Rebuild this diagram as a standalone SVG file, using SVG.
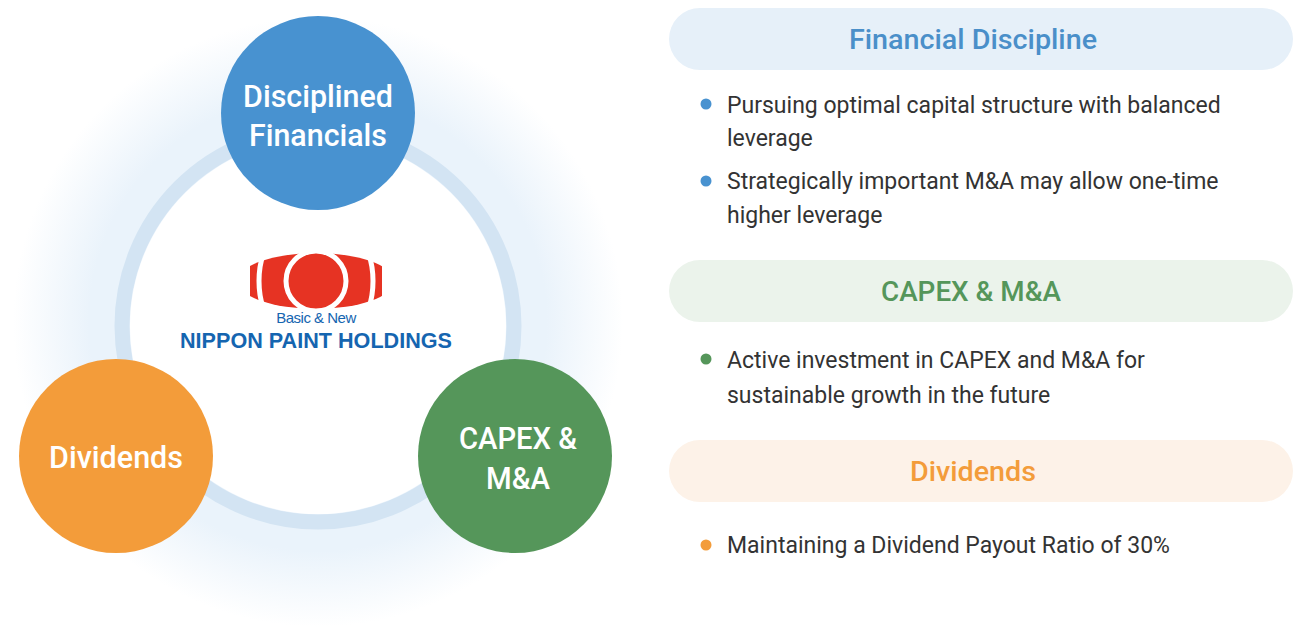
<svg xmlns="http://www.w3.org/2000/svg" width="1293" height="627" viewBox="0 0 1293 627">
<defs>
<radialGradient id="glow" cx="50%" cy="50%" r="50%">
<stop offset="0.75" stop-color="#eaf3fb"/>
<stop offset="1" stop-color="#eaf3fb" stop-opacity="0"/>
</radialGradient>
<mask id="logomask" maskUnits="userSpaceOnUse" x="230" y="230" width="180" height="100">
<ellipse cx="316" cy="281" rx="78" ry="28" fill="#fff"/>
<rect x="230" y="230" width="20" height="100" fill="#000"/>
<rect x="382" y="230" width="30" height="100" fill="#000"/>
<circle cx="316" cy="281" r="30" fill="none" stroke="#000" stroke-width="5"/>
<ellipse cx="316" cy="281" rx="57" ry="70" fill="none" stroke="#000" stroke-width="5"/>
</mask>
<style>
.nl{font-family:Roboto,"Liberation Sans",sans-serif;font-size:31px;font-weight:500;fill:#fff;text-anchor:middle;}
.tt{font-family:Roboto,"Liberation Sans",sans-serif;font-size:27px;font-weight:500;text-anchor:middle;}
.bd{font-family:Roboto,"Liberation Sans",sans-serif;font-size:23px;fill:#333;}
</style>
</defs>
<rect width="1293" height="627" fill="#fff"/>
<g id="background">
<circle cx="318" cy="322" r="305" fill="url(#glow)"/>
<circle cx="318" cy="326" r="196" fill="none" stroke="#d3e4f3" stroke-width="15"/>
<circle cx="318" cy="326" r="188" fill="#fff"/>
</g>
<g id="logo">
<rect x="240" y="240" width="160" height="80" fill="#e63323" mask="url(#logomask)"/>
<text x="316" y="323" font-family="'Liberation Sans',sans-serif" font-size="15" fill="#1565b0" text-anchor="middle" letter-spacing="-0.5">Basic &amp; New</text>
<text x="316" y="348" font-family="'Liberation Sans',sans-serif" font-size="22" font-weight="bold" fill="#1565b0" text-anchor="middle" textLength="272" lengthAdjust="spacingAndGlyphs">NIPPON PAINT HOLDINGS</text>
</g>
<g id="node-disciplined">
<circle cx="318" cy="113" r="97" fill="#4892d0"/>
<text class="nl" x="318" y="107" textLength="150" lengthAdjust="spacingAndGlyphs">Disciplined</text>
<text class="nl" x="318" y="146" textLength="138" lengthAdjust="spacingAndGlyphs">Financials</text>
</g>
<g id="node-dividends">
<circle cx="116" cy="456" r="97" fill="#f39c3a"/>
<text class="nl" x="116" y="468" textLength="134" lengthAdjust="spacingAndGlyphs">Dividends</text>
</g>
<g id="node-capex">
<circle cx="515" cy="456" r="97" fill="#55965a"/>
<text class="nl" x="518" y="449" textLength="118" lengthAdjust="spacingAndGlyphs">CAPEX &amp;</text>
<text class="nl" x="518" y="489" textLength="64" lengthAdjust="spacingAndGlyphs">M&amp;A</text>
</g>
<g id="connectors"/>
<g id="panel-financial">
<rect x="669" y="8" width="624" height="62" rx="31" fill="#e6f0f9"/>
<text class="tt" x="973" y="49" fill="#4a8fc9" textLength="248" lengthAdjust="spacingAndGlyphs">Financial Discipline</text>
<circle cx="706" cy="104" r="5.5" fill="#4892d0"/>
<text class="bd" x="727" y="113">Pursuing optimal capital structure with balanced</text>
<text class="bd" x="727" y="146">leverage</text>
<circle cx="706" cy="181" r="5.5" fill="#4892d0"/>
<text class="bd" x="727" y="189">Strategically important M&amp;A may allow one-time</text>
<text class="bd" x="727" y="223">higher leverage</text>
</g>
<g id="panel-capex">
<rect x="669" y="260" width="624" height="62" rx="31" fill="#ebf3eb"/>
<text class="tt" x="971" y="301" fill="#55965a" textLength="180" lengthAdjust="spacingAndGlyphs">CAPEX &amp; M&amp;A</text>
<circle cx="706" cy="359" r="5.5" fill="#55965a"/>
<text class="bd" x="727" y="368">Active investment in CAPEX and M&amp;A for</text>
<text class="bd" x="727" y="403">sustainable growth in the future</text>
</g>
<g id="panel-dividends">
<rect x="669" y="440" width="624" height="62" rx="31" fill="#fdf2e8"/>
<text class="tt" x="973" y="481" fill="#f39c3a" textLength="126" lengthAdjust="spacingAndGlyphs">Dividends</text>
<circle cx="706" cy="545" r="5.5" fill="#f39c3a"/>
<text class="bd" x="727" y="553">Maintaining a Dividend Payout Ratio of 30%</text>
</g>
</svg>
